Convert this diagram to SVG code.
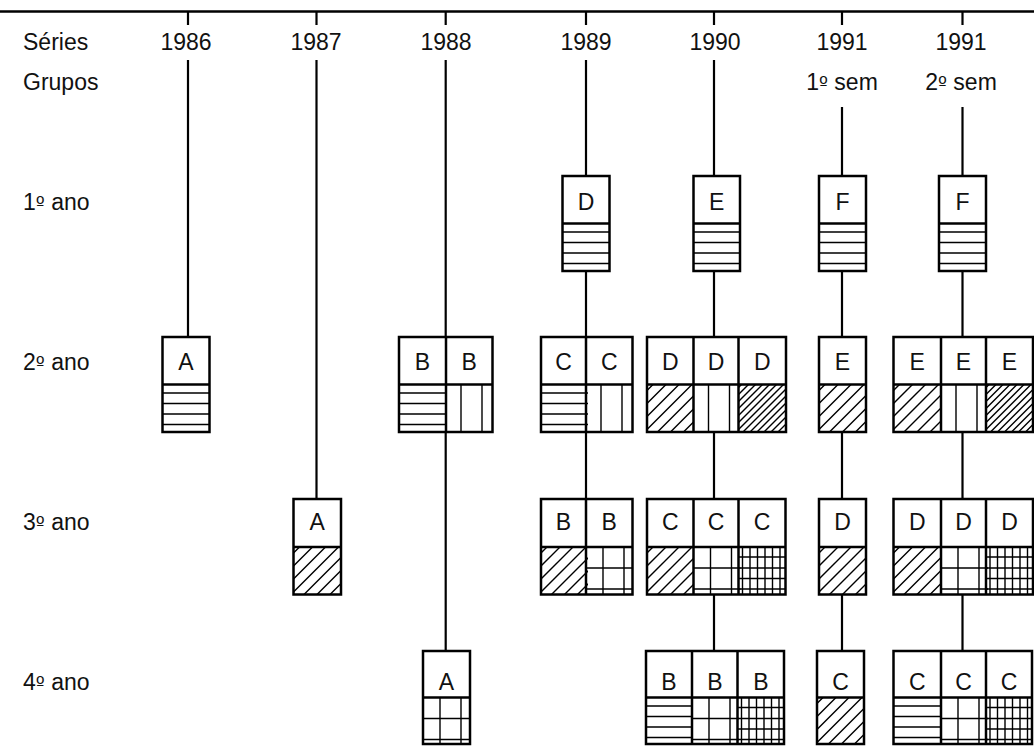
<svg xmlns="http://www.w3.org/2000/svg" width="1034" height="746" viewBox="0 0 1034 746">
<style>
text{font-family:"Liberation Sans",Arial,sans-serif;font-size:23px;fill:#111}
.c{text-anchor:middle}
.ord{font-family:"DejaVu Sans",sans-serif;font-size:19px}
.bg{fill:#fff;stroke:none}
.o{fill:none;stroke:#000;stroke-width:2.5}
.p{fill:none;stroke:#000;stroke-width:1.4}
.k{fill:none;stroke:#000;stroke-width:2.2}
</style>
<defs>
<clipPath id="cc"><rect x="0" y="0" width="47" height="47.5"/></clipPath>
<g id="pH"><path class="p" d="M0 8.5H47M0 19H47M0 29.5H47M0 40H47"/></g>
<g id="pV"><path class="p" d="M15 0V47.5M36 0V47.5"/></g>
<g id="pG"><path class="p" d="M17 0V47.5M38 0V47.5M0 21H47M0 42H47"/></g>
<g id="pGG"><path class="p" d="M4 0V47.5M11.5 0V47.5M19 0V47.5M26.5 0V47.5M34 0V47.5M41.5 0V47.5M0 10H47M0 21H47M0 31.5H47M0 42H47"/></g>
<g id="pDs" clip-path="url(#cc)"><path class="p" d="M-42 48L6 0M-29 48L19 0M-16 48L32 0M-3 48L45 0M10 48L58 0M23 48L71 0M36 48L84 0"/></g>
<g id="pDd" clip-path="url(#cc)"><path class="p" d="M-45 48L3 0M-38 48L10 0M-31 48L17 0M-24 48L24 0M-17 48L31 0M-10 48L38 0M-3 48L45 0M4 48L52 0M11 48L59 0M18 48L66 0M25 48L73 0M32 48L80 0M39 48L87 0M46 48L94 0"/></g>
</defs>
<rect x="0" y="0" width="1034" height="746" fill="#fff"/>
<g id="labels">
<text x="23" y="50">Séries</text>
<text x="23" y="90">Grupos</text>
<text class="c" x="186" y="50">1986</text>
<text class="c" x="316" y="50">1987</text>
<text class="c" x="446" y="50">1988</text>
<text class="c" x="586" y="50">1989</text>
<text class="c" x="715" y="50">1990</text>
<text class="c" x="842" y="50">1991</text>
<text class="c" x="961" y="50">1991</text>
<text class="c" x="842" y="90">1<tspan class="ord">º</tspan> sem</text>
<text class="c" x="961" y="90">2<tspan class="ord">º</tspan> sem</text>
<text x="23" y="210">1<tspan class="ord">º</tspan> ano</text>
<text x="23" y="370">2<tspan class="ord">º</tspan> ano</text>
<text x="23" y="530">3<tspan class="ord">º</tspan> ano</text>
<text x="23" y="690">4<tspan class="ord">º</tspan> ano</text>
</g>
<g id="connectors">
<path d="M0 11.5H1034" stroke="#000" stroke-width="2.5" fill="none"/>
<path class="k" d="M188 11V25M316.5 11V25M445.7 11V25M586 11V25M714 11V25M842 11V25M962.5 11V25"/>
<path class="k" d="M188 60V337M316.5 60V499M445.7 60V651M586 60V594M714 60V651M842 107V651M962.5 107V651"/>
</g>
<!-- Row 1 -->
<g id="n1989-1">
<rect class="bg" x="562.5" y="176" width="47" height="95"/>
<use href="#pH" x="562.5" y="223.5"/>
<rect class="o" x="562.5" y="176" width="47" height="95"/>
<path class="o" d="M562.5 223.5H609.5"/>
<text class="c" x="586" y="210">D</text>
</g>
<g id="n1990-1">
<rect class="bg" x="693.5" y="176" width="46.5" height="95"/>
<use href="#pH" x="693.5" y="223.5"/>
<rect class="o" x="693.5" y="176" width="46.5" height="95"/>
<path class="o" d="M693.5 223.5H740"/>
<text class="c" x="716.7" y="210">E</text>
</g>
<g id="n1991a-1">
<rect class="bg" x="819" y="176" width="47" height="95"/>
<use href="#pH" x="819" y="223.5"/>
<rect class="o" x="819" y="176" width="47" height="95"/>
<path class="o" d="M819 223.5H866"/>
<text class="c" x="842.5" y="210">F</text>
</g>
<g id="n1991b-1">
<rect class="bg" x="939" y="176" width="47" height="95"/>
<use href="#pH" x="939" y="223.5"/>
<rect class="o" x="939" y="176" width="47" height="95"/>
<path class="o" d="M939 223.5H986"/>
<text class="c" x="962.5" y="210">F</text>
</g>
<!-- Row 2 -->
<g id="n1986-2">
<rect class="bg" x="162.5" y="337" width="47" height="95"/>
<use href="#pH" x="162.5" y="384.5"/>
<rect class="o" x="162.5" y="337" width="47" height="95"/>
<path class="o" d="M162.5 384.5H209.5"/>
<text class="c" x="186" y="370">A</text>
</g>
<g id="n1988-2">
<rect class="bg" x="399" y="337" width="93.5" height="95"/>
<use href="#pH" x="399" y="384.5"/>
<use href="#pV" x="446" y="384.5"/>
<rect class="o" x="399" y="337" width="93.5" height="95"/>
<path class="o" d="M399 384.5H492.5M446 337V432"/>
<text class="c" x="422.5" y="370">B</text>
<text class="c" x="469.2" y="370">B</text>
</g>
<g id="n1989-2">
<rect class="bg" x="541" y="337" width="91.5" height="95"/>
<use href="#pH" x="541" y="384.5"/>
<use href="#pV" x="586" y="384.5"/>
<rect class="o" x="541" y="337" width="91.5" height="95"/>
<path class="o" d="M541 384.5H632.5M586 337V432"/>
<text class="c" x="563.5" y="370">C</text>
<text class="c" x="609.2" y="370">C</text>
</g>
<g id="n1990-2">
<rect class="bg" x="647" y="337" width="139" height="95"/>
<use href="#pDs" x="647" y="384.5"/>
<use href="#pV" x="693.5" y="384.5"/>
<use href="#pDd" x="738.5" y="384.5"/>
<rect class="o" x="647" y="337" width="139" height="95"/>
<path class="o" d="M647 384.5H786M693.5 337V432M738.5 337V432"/>
<text class="c" x="670.2" y="370">D</text>
<text class="c" x="716" y="370">D</text>
<text class="c" x="762.2" y="370">D</text>
</g>
<g id="n1991a-2">
<rect class="bg" x="819" y="337" width="47" height="95"/>
<use href="#pDs" x="819" y="384.5"/>
<rect class="o" x="819" y="337" width="47" height="95"/>
<path class="o" d="M819 384.5H866"/>
<text class="c" x="842.5" y="370">E</text>
</g>
<g id="n1991b-2">
<rect class="bg" x="893.5" y="337" width="139.5" height="95"/>
<use href="#pDs" x="893.5" y="384.5"/>
<use href="#pV" x="941" y="384.5"/>
<use href="#pDd" x="986" y="384.5"/>
<rect class="o" x="893.5" y="337" width="139.5" height="95"/>
<path class="o" d="M893.5 384.5H1033M941 337V432M986 337V432"/>
<text class="c" x="917.2" y="370">E</text>
<text class="c" x="963.5" y="370">E</text>
<text class="c" x="1009.5" y="370">E</text>
</g>
<!-- Row 3 -->
<g id="n1987-3">
<rect class="bg" x="293.5" y="499" width="47.5" height="95.5"/>
<use href="#pDs" x="293.5" y="547"/>
<rect class="o" x="293.5" y="499" width="47.5" height="95.5"/>
<path class="o" d="M293.5 547H341"/>
<text class="c" x="317.2" y="530">A</text>
</g>
<g id="n1989-3">
<rect class="bg" x="541" y="499" width="91.5" height="95.5"/>
<use href="#pDs" x="541" y="547"/>
<use href="#pG" x="586" y="547"/>
<rect class="o" x="541" y="499" width="91.5" height="95.5"/>
<path class="o" d="M541 547H632.5M586 499V594.5"/>
<text class="c" x="563.5" y="530">B</text>
<text class="c" x="609.2" y="530">B</text>
</g>
<g id="n1990-3">
<rect class="bg" x="647" y="499" width="138.5" height="95.5"/>
<use href="#pDs" x="647" y="547"/>
<use href="#pG" x="693.5" y="547"/>
<use href="#pGG" x="738.5" y="547"/>
<rect class="o" x="647" y="499" width="138.5" height="95.5"/>
<path class="o" d="M647 547H785.5M693.5 499V594.5M738.5 499V594.5"/>
<text class="c" x="670.2" y="530">C</text>
<text class="c" x="716" y="530">C</text>
<text class="c" x="762" y="530">C</text>
</g>
<g id="n1991a-3">
<rect class="bg" x="819" y="499" width="47" height="95.5"/>
<use href="#pDs" x="819" y="547"/>
<rect class="o" x="819" y="499" width="47" height="95.5"/>
<path class="o" d="M819 547H866"/>
<text class="c" x="842.5" y="530">D</text>
</g>
<g id="n1991b-3">
<rect class="bg" x="893.5" y="499" width="139.5" height="95.5"/>
<use href="#pDs" x="893.5" y="547"/>
<use href="#pG" x="941" y="547"/>
<use href="#pGG" x="986" y="547"/>
<rect class="o" x="893.5" y="499" width="139.5" height="95.5"/>
<path class="o" d="M893.5 547H1033M941 499V594.5M986 499V594.5"/>
<text class="c" x="917.2" y="530">D</text>
<text class="c" x="963.5" y="530">D</text>
<text class="c" x="1009.5" y="530">D</text>
</g>
<!-- Row 4 -->
<g id="n1988-4">
<rect class="bg" x="423" y="651" width="47" height="93"/>
<use href="#pG" x="423" y="697.5"/>
<rect class="o" x="423" y="651" width="47" height="93"/>
<path class="o" d="M423 697.5H470"/>
<text class="c" x="446.5" y="690">A</text>
</g>
<g id="n1990-4">
<rect class="bg" x="646" y="651" width="138" height="93"/>
<use href="#pH" x="646" y="697.5"/>
<use href="#pG" x="692" y="697.5"/>
<use href="#pGG" x="737.5" y="697.5"/>
<rect class="o" x="646" y="651" width="138" height="93"/>
<path class="o" d="M646 697.5H784M692 651V744M737.5 651V744"/>
<text class="c" x="669" y="690">B</text>
<text class="c" x="714.8" y="690">B</text>
<text class="c" x="760.8" y="690">B</text>
</g>
<g id="n1991a-4">
<rect class="bg" x="817" y="651" width="47" height="93"/>
<use href="#pDs" x="817" y="697.5"/>
<rect class="o" x="817" y="651" width="47" height="93"/>
<path class="o" d="M817 697.5H864"/>
<text class="c" x="840.5" y="690">C</text>
</g>
<g id="n1991b-4">
<rect class="bg" x="893.5" y="651" width="138.5" height="93"/>
<use href="#pH" x="893.5" y="697.5"/>
<use href="#pG" x="941" y="697.5"/>
<use href="#pGG" x="986" y="697.5"/>
<rect class="o" x="893.5" y="651" width="138.5" height="93"/>
<path class="o" d="M893.5 697.5H1032M941 651V744M986 651V744"/>
<text class="c" x="917.2" y="690">C</text>
<text class="c" x="963.5" y="690">C</text>
<text class="c" x="1009" y="690">C</text>
</g>
</svg>
